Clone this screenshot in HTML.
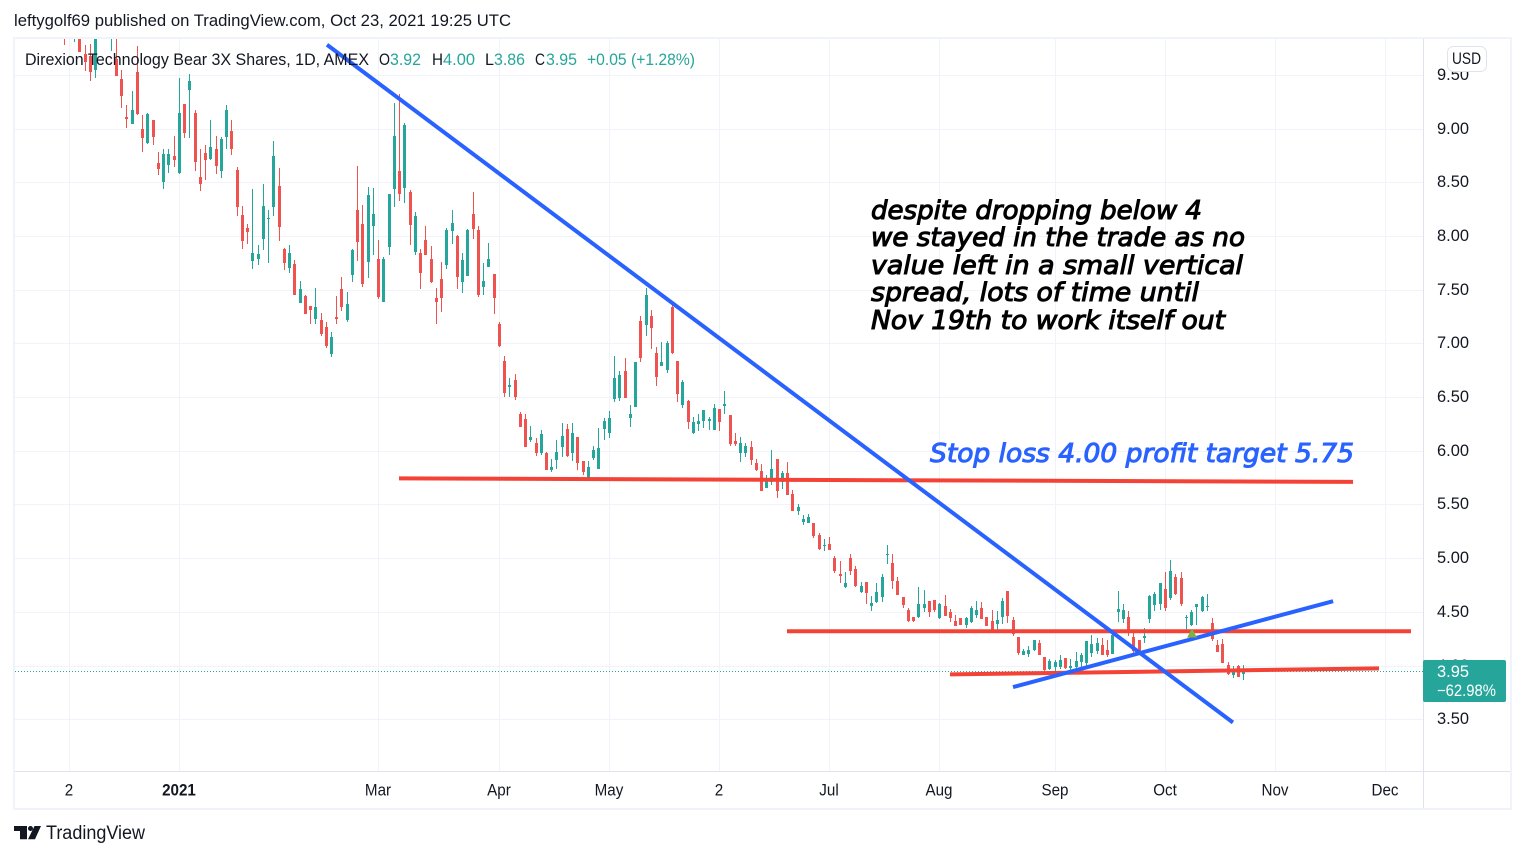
<!DOCTYPE html>
<html lang="en">
<head>
<meta charset="utf-8">
<title>Direxion Technology Bear 3X Shares chart</title>
<style>
html,body{margin:0;padding:0;background:#fff;width:1525px;height:857px;overflow:hidden}
svg{display:block}
text{font-family:"Liberation Sans",sans-serif;fill:#131722}
.note{font-family:"DejaVu Sans","Liberation Sans",sans-serif;font-style:oblique;font-size:26px;stroke-width:1.05px;paint-order:stroke}
</style>
</head>
<body>
<svg id="chart" xmlns="http://www.w3.org/2000/svg" width="1525" height="857" viewBox="0 0 1525 857">
  <defs><clipPath id="plot-clip"><rect x="15" y="39" width="1408" height="732"/></clipPath></defs>
  <rect x="0" y="0" width="1525" height="857" fill="#ffffff"/>
  <text x="14" y="26" font-size="16.5" textLength="497" lengthAdjust="spacingAndGlyphs">leftygolf69 published on TradingView.com, Oct 23, 2021 19:25 UTC</text>
  <rect x="14" y="38" width="1497" height="771" fill="#fff" stroke="#f0f3fa" stroke-width="2"/>
  <g id="grid"></g>
  <g id="candles" clip-path="url(#plot-clip)"></g>
  <line id="last-line" x1="15" x2="1423" stroke="#26a69a" stroke-width="1" stroke-dasharray="1 2"/>
  <g id="drawings" clip-path="url(#plot-clip)"></g>
  <rect x="1423" y="39" width="1" height="769" fill="#e0e3eb"/>
  <rect x="15" y="771" width="1495" height="1" fill="#e0e3eb"/>
  <g id="price-axis"></g>
  <g id="time-axis"></g>

  <g>
    <rect x="1423" y="660" width="83" height="42" rx="2" fill="#26a69a"/>
    <text x="1437" y="677" font-size="16.5" textLength="32" lengthAdjust="spacingAndGlyphs" style="fill:#fff">3.95</text>
    <text x="1437" y="696" font-size="16.5" textLength="59" lengthAdjust="spacingAndGlyphs" style="fill:#fff">−62.98%</text>
  </g>

  <g>
    <rect x="1447.5" y="46.5" width="39" height="25" rx="6" fill="#fff" stroke="#e0e3eb"/>
    <text x="1452" y="64" font-size="16.5" textLength="29" lengthAdjust="spacingAndGlyphs">USD</text>
  </g>

  <g font-size="16.5">
    <text x="25" y="65" textLength="344" lengthAdjust="spacingAndGlyphs">Direxion Technology Bear 3X Shares, 1D, AMEX</text>
    <text x="379" y="65" textLength="11" lengthAdjust="spacingAndGlyphs">O</text>
    <text x="390" y="65" textLength="31" lengthAdjust="spacingAndGlyphs" style="fill:#26a69a">3.92</text>
    <text x="432" y="65" textLength="11" lengthAdjust="spacingAndGlyphs">H</text>
    <text x="443" y="65" textLength="32" lengthAdjust="spacingAndGlyphs" style="fill:#26a69a">4.00</text>
    <text x="485" y="65" textLength="9" lengthAdjust="spacingAndGlyphs">L</text>
    <text x="494" y="65" textLength="31" lengthAdjust="spacingAndGlyphs" style="fill:#26a69a">3.86</text>
    <text x="535" y="65" textLength="10" lengthAdjust="spacingAndGlyphs">C</text>
    <text x="546" y="65" textLength="31" lengthAdjust="spacingAndGlyphs" style="fill:#26a69a">3.95</text>
    <text x="587" y="65" textLength="108" lengthAdjust="spacingAndGlyphs" style="fill:#26a69a">+0.05 (+1.28%)</text>
  </g>

  <g>
    <text class="note" x="871" y="219" textLength="331" lengthAdjust="spacingAndGlyphs" style="fill:#000;stroke:#000">despite dropping below 4</text>
    <text class="note" x="871" y="246" textLength="374" lengthAdjust="spacingAndGlyphs" style="fill:#000;stroke:#000">we stayed in the trade as no</text>
    <text class="note" x="871" y="274" textLength="372" lengthAdjust="spacingAndGlyphs" style="fill:#000;stroke:#000">value left in a small vertical</text>
    <text class="note" x="871" y="301" textLength="328" lengthAdjust="spacingAndGlyphs" style="fill:#000;stroke:#000">spread, lots of time until</text>
    <text class="note" x="871" y="329" textLength="354" lengthAdjust="spacingAndGlyphs" style="fill:#000;stroke:#000">Nov 19th to work itself out</text>
  </g>
  <text class="note" x="930" y="462" textLength="424" lengthAdjust="spacingAndGlyphs" style="fill:#2962ff;stroke:#2962ff">Stop loss 4.00 profit target 5.75</text>

  <g>
    <path d="M14 826H27V839.3H20V831H14ZM41 826L35 839.3H28L34.5 826Z" fill="#131722"/>
    <circle cx="30.5" cy="828.5" r="2.5" fill="#131722"/>
    <text x="46" y="839" font-size="19" textLength="99" lengthAdjust="spacingAndGlyphs">TradingView</text>
  </g>
</svg>
<script>
const firstBar = -1;
const opens = [10.1,10.0,9.95,10.0,9.69,9.67,9.54,10.0,10.2,9.9,
9.64,9.46,9.10,9.04,9.52,8.99,8.86,9.07,8.67,8.50,
8.66,8.74,8.58,9.22,9.35,9.14,8.54,8.77,8.71,8.80,
8.60,8.92,8.97,8.61,8.19,8.07,7.76,7.78,7.97,8.16,
8.26,8.46,7.87,7.70,7.73,7.37,7.44,7.34,7.22,7.21,
7.15,6.90,7.24,7.50,7.21,7.63,8.24,8.11,7.75,8.09,
7.78,7.38,7.89,8.43,8.60,8.44,8.40,7.85,7.84,7.96,
7.78,7.42,7.59,7.72,8.04,7.99,7.57,7.62,8.20,8.05,
7.52,7.71,7.64,7.18,6.83,6.59,6.65,6.34,6.29,6.10,
6.07,5.97,5.97,5.82,5.91,6.03,6.20,5.97,6.12,5.90,
5.74,5.93,5.83,6.20,6.16,6.48,6.49,6.74,6.30,6.40,
7.20,7.17,7.25,6.91,6.78,6.75,7.33,6.83,6.42,6.46,
6.16,6.24,6.27,6.27,6.19,6.38,6.41,6.33,6.09,5.97,
5.97,6.03,5.88,5.81,5.65,5.70,5.92,5.70,5.79,5.59,
5.43,5.33,5.32,5.32,5.21,5.12,5.13,5.00,4.85,4.73,
5.00,4.89,4.68,4.77,4.55,4.59,4.63,5.03,4.95,4.78,
4.63,4.51,4.45,4.45,4.53,4.60,4.61,4.44,4.55,4.49,
4.41,4.44,4.37,4.40,4.47,4.53,4.45,4.41,4.38,4.45,
4.69,4.42,4.26,4.09,4.10,4.14,4.21,4.08,3.96,3.98,
3.98,4.07,3.97,3.98,4.03,4.02,4.11,4.13,4.19,4.14,
4.10,4.49,4.43,4.45,4.26,4.23,4.25,4.43,4.56,4.57,
4.71,4.62,4.82,4.81,4.44,4.37,4.54,4.50,4.54,4.39,
4.19,4.20,4.00,3.91,3.99,3.92];
const highs = [10.2,10.3,10.2,10.2,9.77,9.78,10.0,10.3,10.3,10.2,
10.0,9.54,9.21,9.34,9.76,9.12,9.14,9.07,8.78,8.80,
8.80,8.93,9.47,9.22,9.50,9.17,8.80,8.84,9.07,8.93,
8.92,9.21,9.07,8.64,8.27,8.11,8.43,7.91,8.48,8.24,
8.88,8.63,7.88,7.91,7.77,7.58,7.45,7.34,7.51,7.28,
7.19,7.10,7.44,7.61,7.47,7.87,8.65,8.28,8.45,8.44,
7.96,7.80,8.39,9.23,9.32,9.05,8.42,8.22,7.87,8.09,
7.90,7.51,7.75,8.07,8.24,8.00,7.84,8.06,8.40,8.09,
7.74,7.93,7.64,7.19,6.88,6.67,6.71,6.36,6.34,6.23,
6.11,6.19,5.98,5.92,6.10,6.25,6.24,6.25,6.12,5.90,
5.90,6.04,6.21,6.30,6.37,6.88,6.74,6.86,6.42,6.82,
7.25,7.51,7.31,6.96,7.01,7.02,7.37,6.83,6.65,6.47,
6.31,6.34,6.375,6.31,6.43,6.38,6.55,6.33,6.16,6.12,
6.07,6.09,5.92,5.87,5.77,6.00,5.92,5.81,5.89,5.63,
5.50,5.40,5.41,5.32,5.23,5.17,5.19,5.02,4.97,4.87,
5.03,4.92,4.77,4.77,4.64,4.76,4.85,5.12,5.03,4.82,
4.63,4.53,4.45,4.73,4.70,4.60,4.61,4.58,4.65,4.52,
4.47,4.44,4.45,4.55,4.60,4.59,4.45,4.51,4.50,4.62,
4.69,4.45,4.26,4.15,4.18,4.23,4.23,4.08,4.06,4.05,
4.09,4.07,4.06,4.12,4.11,4.22,4.28,4.25,4.25,4.23,
4.31,4.69,4.57,4.50,4.30,4.23,4.35,4.65,4.68,4.76,
4.87,4.98,4.85,4.87,4.47,4.51,4.57,4.64,4.66,4.44,
4.23,4.24,4.03,3.99,4.00,4.00];
const lows = [9.77,9.9,9.80,9.71,9.53,9.44,9.47,9.95,10.0,9.72,
9.48,9.19,9.0,9.04,9.12,8.78,8.85,8.84,8.56,8.43,
8.58,8.64,8.57,8.91,8.91,8.60,8.41,8.52,8.70,8.57,
8.53,8.80,8.75,8.18,7.87,7.92,7.69,7.72,7.86,7.74,
8.18,7.95,7.68,7.65,7.45,7.37,7.27,7.18,7.18,7.06,
6.95,6.87,7.18,7.30,7.19,7.57,7.76,7.52,7.60,7.82,
7.41,7.38,7.82,8.26,8.32,8.30,7.91,7.82,7.50,7.82,
7.56,7.18,7.29,7.69,7.92,7.50,7.46,7.62,7.97,7.43,
7.45,7.71,7.27,6.96,6.50,6.50,6.47,6.22,6.03,6.08,
5.95,5.96,5.82,5.80,5.83,5.94,5.94,5.90,5.82,5.77,
5.73,5.91,5.83,6.10,6.11,6.45,6.46,6.49,6.22,6.40,
6.82,7.06,6.94,6.60,6.78,6.72,6.90,6.45,6.39,6.20,
6.15,6.18,6.21,6.19,6.19,6.18,6.34,6.04,6.04,5.89,
5.94,5.86,5.81,5.62,5.65,5.68,5.56,5.64,5.58,5.43,
5.40,5.30,5.32,5.18,5.07,5.06,5.07,4.86,4.76,4.72,
4.84,4.73,4.67,4.57,4.50,4.58,4.59,4.94,4.71,4.65,
4.53,4.40,4.40,4.44,4.49,4.45,4.49,4.43,4.46,4.40,
4.36,4.37,4.35,4.39,4.44,4.43,4.36,4.33,4.33,4.38,
4.39,4.27,4.09,4.09,4.08,4.13,4.09,3.93,3.95,3.93,
3.96,3.96,3.94,3.97,3.98,3.97,4.08,4.10,4.09,4.08,
4.10,4.40,4.39,4.27,4.10,4.10,4.21,4.39,4.50,4.51,
4.50,4.61,4.65,4.55,4.33,4.36,4.37,4.49,4.50,4.225,
4.12,4.02,3.91,3.88,3.89,3.86];
const closes = [9.9,10.1,10.1,9.71,9.61,9.52,9.95,10.1,10.1,10.1,
9.48,9.30,9.08,9.17,9.13,8.91,9.13,8.92,8.62,8.76,
8.76,8.70,9.14,8.95,9.44,8.68,8.48,8.70,8.82,8.65,
8.90,9.17,8.80,8.26,7.95,8.03,7.84,7.83,8.27,8.16,
8.74,8.08,7.74,7.84,7.45,7.50,7.27,7.31,7.33,7.08,
6.97,7.05,7.22,7.33,7.36,7.86,7.94,7.55,8.38,8.20,
7.43,7.78,8.39,8.93,8.39,9.03,8.10,8.18,7.65,7.82,
7.57,7.38,7.42,8.05,8.12,7.61,7.77,8.05,8.06,7.45,
7.58,7.78,7.42,6.97,6.53,6.61,6.50,6.22,6.03,6.12,
5.97,6.15,5.82,5.84,5.98,6.13,5.95,6.16,5.88,5.80,
5.84,6.00,6.02,6.27,6.30,6.67,6.70,6.49,6.34,6.82,
6.86,7.45,7.14,6.68,6.82,7.00,6.91,6.52,6.64,6.26,
6.26,6.27,6.375,6.29,6.39,6.26,6.43,6.06,6.06,6.07,
6.04,5.91,5.82,5.62,5.74,5.83,5.62,5.79,5.58,5.43,
5.47,5.36,5.38,5.20,5.08,5.12,5.07,4.88,4.83,4.76,
4.88,4.74,4.74,4.67,4.58,4.68,4.82,5.03,4.78,4.65,
4.56,4.41,4.41,4.57,4.57,4.49,4.51,4.57,4.46,4.44,
4.36,4.37,4.44,4.53,4.51,4.43,4.36,4.33,4.42,4.60,
4.46,4.29,4.11,4.13,4.14,4.23,4.09,3.95,4.04,4.03,
4.05,3.97,3.99,4.04,4.09,4.22,4.20,4.21,4.09,4.09,
4.28,4.52,4.51,4.31,4.13,4.13,4.27,4.64,4.66,4.76,
4.53,4.88,4.66,4.57,4.45,4.49,4.57,4.63,4.55,4.24,
4.12,4.02,3.92,3.95,3.89,3.95];
const priceTicks = ["9.50","9.00","8.50","8.00","7.50","7.00","6.50","6.00","5.50","5.00","4.50","4.00","3.50"];
const timeTickLabels = ["2","2021","Mar","Apr","May","2","Jul","Aug","Sep","Oct","Nov","Dec"];
const timeTickBars = [0,21,59,82,103,124,145,166,188,209,230,251];
const lastPrice = 3.95;
const blueTrendStarts = [49.14,179.96];
const blueTrendStartPrices = [9.78,3.80];
const blueTrendEnds = [221.9,241.0];
const blueTrendEndPrices = [3.47,4.60];
const redLevelStarts = [62.87,136.86,167.95];
const redLevelStartPrices = [5.743,4.32,3.918];
const redLevelEnds = [244.8,255.85,249.75];
const redLevelEndPrices = [5.71,4.32,3.974];
const arrowBar = 214.1;
const arrowPrice = 4.345;

const NS = 'http://www.w3.org/2000/svg';
const UP = '#26a69a';
const DOWN = '#ef5350';
function xScale(bar) { return 69.3 + bar * 5.244; }
function yScale(price) { return 128.5 + (9 - price) * 107.42; }
function make(tag, attrs, parent) {
  const el = document.createElementNS(NS, tag);
  for (const k in attrs) el.setAttribute(k, attrs[k]);
  parent.appendChild(el);
  return el;
}

const grid = document.getElementById('grid');
const priceAxis = document.getElementById('price-axis');
const timeAxis = document.getElementById('time-axis');
const candles = document.getElementById('candles');
const drawings = document.getElementById('drawings');

priceTicks.forEach(function (label) {
  const y = Math.round(yScale(parseFloat(label)));
  const line = make('rect', { x: 15, y: y, width: 1408, height: 1, fill: '#f0f3fa' }, grid);
  
  
  const t = make('text', { x: 1437, y: y + 5, 'font-size': 16.5, textLength: 32, lengthAdjust: 'spacingAndGlyphs' }, priceAxis);
  
  
  t.textContent = label;
});

timeTickBars.forEach(function (bar, i) {
  const x = Math.floor(xScale(bar));
  const line = make('rect', { x: x, y: 39, width: 1, height: 732, fill: '#f0f3fa' }, grid);
  
  
  const t = make('text', { x: x, y: 795.5, 'font-size': 16.5, 'text-anchor': 'middle', lengthAdjust: 'spacingAndGlyphs' }, timeAxis);
  
  
  if (timeTickLabels[i] === '2021') t.setAttribute('font-weight', 'bold');
  t.textContent = timeTickLabels[i];
  t.setAttribute('textLength', t.getComputedTextLength() * 0.92);
});

opens.forEach(function (open, i) {
  const bar = firstBar + i;
  const close = closes[i];
  const color = close >= open ? UP : DOWN;
  const x = Math.floor(xScale(bar));
  const top = Math.floor(yScale(Math.max(open, close)));
  const bottom = Math.floor(yScale(Math.min(open, close)));
  const hi = Math.floor(yScale(highs[i]));
  const lo = Math.floor(yScale(lows[i]));
  const wick = make('rect', { x: x, y: hi, width: 1, height: Math.max(1, lo - hi), fill: color }, candles);
  
  
  const body = make('rect', { x: x - 1, y: top, width: 3, height: Math.max(1, bottom - top), fill: color }, candles);
  
  
});

const lastLine = document.getElementById('last-line');
lastLine.setAttribute('y1', Math.round(yScale(lastPrice)) + 0.5);
lastLine.setAttribute('y2', Math.round(yScale(lastPrice)) + 0.5);

redLevelStarts.forEach(function (bar, i) {
  const line = make('line', {
    x1: xScale(bar), y1: yScale(redLevelStartPrices[i]),
    x2: xScale(redLevelEnds[i]), y2: yScale(redLevelEndPrices[i]),
    stroke: '#f44336', 'stroke-width': 4
  }, drawings);
  
  
});
blueTrendStarts.forEach(function (bar, i) {
  const line = make('line', {
    x1: xScale(bar), y1: yScale(blueTrendStartPrices[i]),
    x2: xScale(blueTrendEnds[i]), y2: yScale(blueTrendEndPrices[i]),
    stroke: '#2962ff', 'stroke-width': 4
  }, drawings);
  
  
});
const ax = xScale(arrowBar);
const ay = yScale(arrowPrice);
const arrow = make('polygon', {
  points: ax + ',' + ay + ' ' + (ax + 5) + ',' + (ay + 9) + ' ' + (ax - 5) + ',' + (ay + 9),
  fill: '#7cb342'
}, drawings);


</script>
</body>
</html>
